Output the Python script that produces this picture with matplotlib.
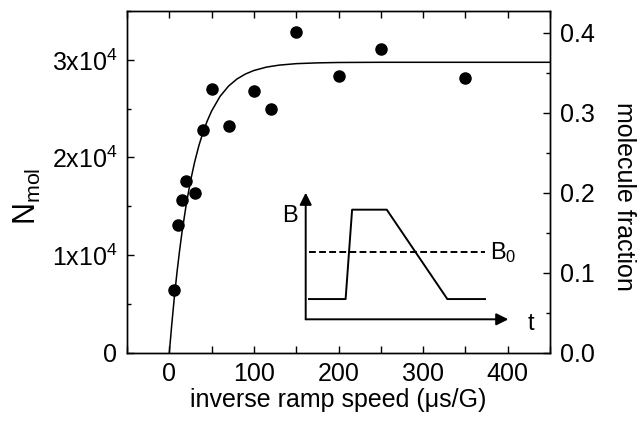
import matplotlib
matplotlib.use('Agg')  # no display
import matplotlib.pyplot as plt
from matplotlib.ticker import MultipleLocator

plt.rcParams['font.family'] = ['Liberation Sans', 'DejaVu Sans']
plt.rcParams['mathtext.fontset'] = 'custom'
plt.rcParams['mathtext.rm'] = 'Liberation Sans'
plt.rcParams['mathtext.it'] = 'Liberation Sans:italic'
plt.rcParams['mathtext.bf'] = 'Liberation Sans:bold'

# measured points: inverse ramp speed (us/G) vs molecule number
ramp_inv = [6, 10, 15, 20, 30, 40, 50, 70, 100, 120, 150, 200, 250, 350]
n_mol = [6.4e3, 1.31e4, 1.56e4, 1.76e4, 1.64e4, 2.28e4, 2.70e4, 2.32e4,
         2.68e4, 2.50e4, 3.29e4, 2.835e4, 3.11e4, 2.81e4]

# fitted curve
fit_x = [0, 3, 6, 9, 12, 15, 20, 25, 30, 35, 40, 45, 50, 60, 70, 80, 90,
         100, 115, 130, 150, 175, 200, 250, 300, 350, 400, 450]
fit_y = [0, 3.0e3, 5.74e3, 8.18e3, 1.037e4, 1.235e4, 1.519e4, 1.757e4,
         1.956e4, 2.123e4, 2.262e4, 2.378e4, 2.476e4, 2.626e4, 2.731e4,
         2.804e4, 2.855e4, 2.891e4, 2.926e4, 2.946e4, 2.961e4, 2.969e4,
         2.973e4, 2.975e4, 2.975e4, 2.975e4, 2.975e4, 2.975e4]

ytick_vals = [0, 1e4, 2e4, 3e4]
ytick_labels = ['0', '1x10$^4$', '2x10$^4$', '3x10$^4$']
frac_ticks = [0.0, 0.1, 0.2, 0.3, 0.4]

# inset schematic: field B vs time (inset units 0..1)
pulse_t = [0.016, 0.197, 0.229, 0.400, 0.699, 0.885]
pulse_b = [0.160, 0.160, 0.866, 0.866, 0.160, 0.160]
b0_t = [0.016, 0.885]
b0_level = 0.534

fig = plt.figure(figsize=(6.37, 4.24), dpi=100)
ax = fig.add_axes([0.1994, 0.168, 0.664, 0.806])

ax.plot(fit_x, fit_y, color='k', lw=1.1)
ax.plot(ramp_inv, n_mol, 'o', color='k', ms=8)

ax.set_xlim(-50, 450)
ax.set_ylim(0, 3.5e4)
ax.xaxis.set_major_locator(MultipleLocator(100))
ax.xaxis.set_minor_locator(MultipleLocator(50))
ax.set_yticks(ytick_vals)
ax.set_yticklabels(ytick_labels)
ax.yaxis.set_minor_locator(MultipleLocator(5000))
ax.tick_params(which='both', direction='in', top=True, right=False,
               labelsize=18, width=1, pad=7)
ax.tick_params(which='major', length=5)
ax.tick_params(axis='x', which='minor', length=5)
ax.tick_params(axis='y', which='minor', length=3)
for sp in ax.spines.values():
    sp.set_linewidth(1)

ax2 = ax.twinx()
ax2.set_ylim(0, 0.4271)
ax2.set_yticks(frac_ticks)
ax2.set_yticklabels([f'{v:.1f}' for v in frac_ticks])
ax2.yaxis.set_minor_locator(MultipleLocator(0.05))
ax2.tick_params(which='both', direction='in', labelsize=18, width=1, pad=7)
ax2.tick_params(which='major', length=5)
ax2.tick_params(which='minor', length=3)
for sp in ax2.spines.values():
    sp.set_linewidth(1)

ax.set_xlabel('inverse ramp speed (\u03bcs/G)', fontsize=18, labelpad=1)
fig.text(27 / 637, 1 - 196 / 424, 'N$_{\\mathregular{mol}}$', fontsize=22,
         rotation=90, ha='center', va='center')
fig.text(624 / 637, 1 - 196 / 424, 'molecule fraction', fontsize=18,
         rotation=-90, ha='center', va='center')

# inset
axins = fig.add_axes([0.4799, 0.2469, 0.3181, 0.2986])
axins.set_xlim(0, 1)
axins.set_ylim(0, 1)
axins.axis('off')
axins.plot(pulse_t, pulse_b, color='k', lw=1.4)
axins.plot(b0_t, [b0_level, b0_level], color='k', lw=1.4, ls=(0, (3.5, 1.7)))
arrow = dict(arrowstyle='-|>', lw=1.4, color='k', mutation_scale=18,
             shrinkA=0, shrinkB=0)
axins.annotate('', xy=(0, 1), xytext=(0, 0), arrowprops=arrow,
               annotation_clip=False)
axins.annotate('', xy=(1, 0), xytext=(0, 0), arrowprops=arrow,
               annotation_clip=False)
axins.text(-0.079, 0.769, 'B', fontsize=17, ha='center', va='baseline')
axins.text(0.91, 0.476, 'B$_{\\mathregular{0}}$', fontsize=17, ha='left',
           va='baseline')
axins.text(1.112, -0.085, 't', fontsize=17, ha='center', va='baseline')

fig.savefig('out.png', dpi=100)
